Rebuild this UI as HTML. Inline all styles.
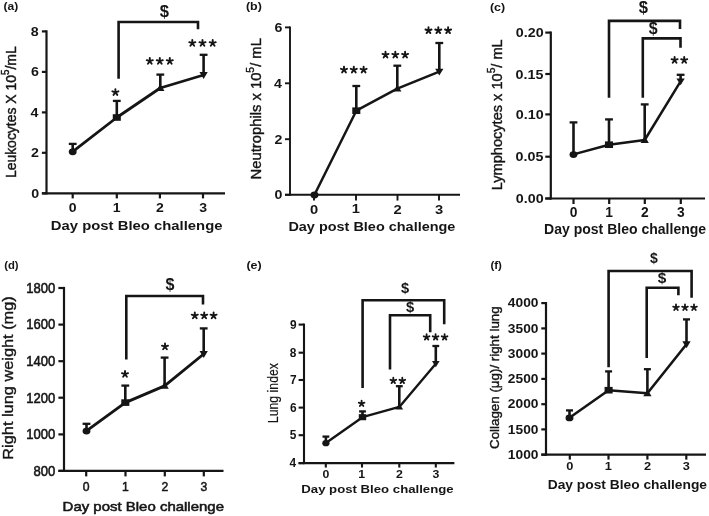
<!DOCTYPE html>
<html><head><meta charset="utf-8"><style>
html,body{margin:0;padding:0;background:#fff;overflow:hidden}
svg{display:block;filter:blur(0.45px)}
text{font-family:"Liberation Sans",sans-serif;fill:#151515;stroke:none}
</style></head><body>
<svg width="709" height="516" viewBox="0 0 709 516">
<g stroke="#151515" fill="#151515">
<path d="M46.50 30.30L46.50 194.40" stroke-width="2.2"/>
<path d="M41.90 193.30L46.50 193.30" stroke-width="2.2"/>
<path d="M41.90 152.80L46.50 152.80" stroke-width="2.2"/>
<path d="M41.90 112.40L46.50 112.40" stroke-width="2.2"/>
<path d="M41.90 71.90L46.50 71.90" stroke-width="2.2"/>
<path d="M41.90 31.40L46.50 31.40" stroke-width="2.2"/>
<path d="M41.90 193.30L225.00 193.30" stroke-width="2.2"/>
<path d="M72.70 193.30L72.70 198.40" stroke-width="2.2"/>
<path d="M116.80 193.30L116.80 198.40" stroke-width="2.2"/>
<path d="M159.90 193.30L159.90 198.40" stroke-width="2.2"/>
<path d="M203.00 193.30L203.00 198.40" stroke-width="2.2"/>
<text transform="translate(31.14,197.89) scale(1.070,1)" font-size="13.30" font-weight="bold">0</text>
<text transform="translate(31.00,157.46) scale(1.070,1)" font-size="13.30" font-weight="bold">2</text>
<text transform="translate(30.57,116.99) scale(1.070,1)" font-size="13.30" font-weight="bold">4</text>
<text transform="translate(31.00,76.49) scale(1.070,1)" font-size="13.30" font-weight="bold">6</text>
<text transform="translate(30.86,35.99) scale(1.070,1)" font-size="13.30" font-weight="bold">8</text>
<text transform="translate(68.83,212.26) scale(1.100,1)" font-size="12.80" font-weight="bold">0</text>
<text transform="translate(112.65,212.13) scale(1.100,1)" font-size="12.80" font-weight="bold">1</text>
<text transform="translate(156.03,212.26) scale(1.100,1)" font-size="12.80" font-weight="bold">2</text>
<text transform="translate(199.20,212.26) scale(1.100,1)" font-size="12.80" font-weight="bold">3</text>
<text transform="translate(3.60,10.39) scale(1.049,1)" font-size="11.49" font-weight="bold">(a)</text>
<text transform="translate(50.86,229.60) scale(1.114,1)" font-size="13.33" font-weight="bold">Day post Bleo challenge</text>
<text transform="translate(16.40,178.12) rotate(-90) scale(1,1.080)" font-size="13.96" font-weight="normal" style="stroke:#151515;stroke-width:0.4px">Leukocytes X 10<tspan dy='-0.68em' font-size='70%'>5</tspan><tspan dy='0.476em'>/mL</tspan></text>
<path d="M72.70 151.60L72.70 143.80" stroke-width="2.6"/>
<path d="M68.80 143.90L76.60 143.90" stroke-width="2.3"/>
<path d="M116.80 117.50L116.80 100.80" stroke-width="2.6"/>
<path d="M112.90 100.90L120.70 100.90" stroke-width="2.3"/>
<path d="M160.30 88.00L160.30 74.50" stroke-width="2.6"/>
<path d="M156.40 74.60L164.20 74.60" stroke-width="2.3"/>
<path d="M203.60 75.00L203.60 54.70" stroke-width="2.6"/>
<path d="M199.70 54.80L207.50 54.80" stroke-width="2.3"/>
<path d="M72.70 151.60 L116.80 117.50 L160.30 88.00 L203.60 75.00" stroke-width="2.8" fill="none" stroke-linejoin="round"/>
<ellipse cx="72.70" cy="151.80" rx="3.96" ry="3.42" stroke="none"/>
<rect x="112.77" y="114.19" width="8.06" height="6.62" stroke="none"/>
<path d="M156.16 90.88L164.44 90.88L160.30 84.04Z" stroke="none"/>
<path d="M199.46 72.12L207.74 72.12L203.60 78.96Z" stroke="none"/>
<path d="M115.40 92.30L115.40 89.10M115.40 92.30L118.44 91.31M115.40 92.30L117.28 94.89M115.40 92.30L113.52 94.89M115.40 92.30L112.36 91.31" stroke-width="1.9" stroke-linecap="round" fill="none"/>
<path d="M149.80 61.20L149.80 58.00M149.80 61.20L152.84 60.21M149.80 61.20L151.68 63.79M149.80 61.20L147.92 63.79M149.80 61.20L146.76 60.21" stroke-width="1.9" stroke-linecap="round" fill="none"/>
<path d="M159.80 61.20L159.80 58.00M159.80 61.20L162.84 60.21M159.80 61.20L161.68 63.79M159.80 61.20L157.92 63.79M159.80 61.20L156.76 60.21" stroke-width="1.9" stroke-linecap="round" fill="none"/>
<path d="M169.80 61.20L169.80 58.00M169.80 61.20L172.84 60.21M169.80 61.20L171.68 63.79M169.80 61.20L167.92 63.79M169.80 61.20L166.76 60.21" stroke-width="1.9" stroke-linecap="round" fill="none"/>
<path d="M192.30 43.20L192.30 40.00M192.30 43.20L195.34 42.21M192.30 43.20L194.18 45.79M192.30 43.20L190.42 45.79M192.30 43.20L189.26 42.21" stroke-width="1.9" stroke-linecap="round" fill="none"/>
<path d="M202.50 43.20L202.50 40.00M202.50 43.20L205.54 42.21M202.50 43.20L204.38 45.79M202.50 43.20L200.62 45.79M202.50 43.20L199.46 42.21" stroke-width="1.9" stroke-linecap="round" fill="none"/>
<path d="M212.70 43.20L212.70 40.00M212.70 43.20L215.74 42.21M212.70 43.20L214.58 45.79M212.70 43.20L210.82 45.79M212.70 43.20L209.66 42.21" stroke-width="1.9" stroke-linecap="round" fill="none"/>
<path d="M118.60 78.70V22.00H198.00V29.20" stroke-width="2.6" fill="none"/>
<path d="M290.00 26.45L290.00 195.75" stroke-width="1.9"/>
<path d="M285.00 194.80L290.00 194.80" stroke-width="1.9"/>
<path d="M285.00 139.20L290.00 139.20" stroke-width="1.9"/>
<path d="M285.00 83.30L290.00 83.30" stroke-width="1.9"/>
<path d="M285.00 27.40L290.00 27.40" stroke-width="1.9"/>
<path d="M285.00 194.80L460.00 194.80" stroke-width="1.9"/>
<path d="M314.00 194.80L314.00 200.55" stroke-width="1.9"/>
<path d="M356.00 194.80L356.00 200.55" stroke-width="1.9"/>
<path d="M397.50 194.80L397.50 200.55" stroke-width="1.9"/>
<path d="M439.00 194.80L439.00 200.55" stroke-width="1.9"/>
<text transform="translate(274.57,199.46) scale(1.050,1)" font-size="13.50" font-weight="bold">0</text>
<text transform="translate(274.43,143.92) scale(1.050,1)" font-size="13.50" font-weight="bold">2</text>
<text transform="translate(274.00,87.96) scale(1.050,1)" font-size="13.50" font-weight="bold">4</text>
<text transform="translate(274.43,32.06) scale(1.050,1)" font-size="13.50" font-weight="bold">6</text>
<text transform="translate(309.96,213.52) scale(1.080,1)" font-size="13.60" font-weight="bold">0</text>
<text transform="translate(351.67,213.38) scale(1.080,1)" font-size="13.60" font-weight="bold">1</text>
<text transform="translate(393.46,213.52) scale(1.080,1)" font-size="13.60" font-weight="bold">2</text>
<text transform="translate(435.03,213.52) scale(1.080,1)" font-size="13.60" font-weight="bold">3</text>
<text transform="translate(245.98,10.34) scale(1.159,1)" font-size="10.74" font-weight="bold">(b)</text>
<text transform="translate(288.39,231.20) scale(1.062,1)" font-size="13.62" font-weight="bold">Day post Bleo challenge</text>
<text transform="translate(260.70,179.38) rotate(-90) scale(1,0.980)" font-size="14.78" font-weight="normal" style="stroke:#151515;stroke-width:0.4px">Neutrophils x 10<tspan dy='-0.68em' font-size='70%'>5</tspan><tspan dy='0.476em'>/ mL</tspan></text>
<path d="M356.30 110.70L356.30 85.90" stroke-width="2.6"/>
<path d="M352.40 86.00L360.20 86.00" stroke-width="2.3"/>
<path d="M397.30 88.60L397.30 65.60" stroke-width="2.6"/>
<path d="M393.40 65.70L401.20 65.70" stroke-width="2.3"/>
<path d="M439.30 71.60L439.30 42.90" stroke-width="2.6"/>
<path d="M435.40 43.00L443.20 43.00" stroke-width="2.3"/>
<path d="M314.50 194.80 L356.30 110.70 L397.30 88.60 L439.30 71.60" stroke-width="2.5" fill="none" stroke-linejoin="round"/>
<ellipse cx="314.50" cy="195.00" rx="3.96" ry="3.42" stroke="none"/>
<rect x="352.27" y="107.39" width="8.06" height="6.62" stroke="none"/>
<path d="M393.16 91.48L401.44 91.48L397.30 84.64Z" stroke="none"/>
<path d="M435.16 68.72L443.44 68.72L439.30 75.56Z" stroke="none"/>
<path d="M344.00 69.80L344.00 66.60M344.00 69.80L347.04 68.81M344.00 69.80L345.88 72.39M344.00 69.80L342.12 72.39M344.00 69.80L340.96 68.81" stroke-width="1.9" stroke-linecap="round" fill="none"/>
<path d="M353.80 69.80L353.80 66.60M353.80 69.80L356.84 68.81M353.80 69.80L355.68 72.39M353.80 69.80L351.92 72.39M353.80 69.80L350.76 68.81" stroke-width="1.9" stroke-linecap="round" fill="none"/>
<path d="M363.60 69.80L363.60 66.60M363.60 69.80L366.64 68.81M363.60 69.80L365.48 72.39M363.60 69.80L361.72 72.39M363.60 69.80L360.56 68.81" stroke-width="1.9" stroke-linecap="round" fill="none"/>
<path d="M385.50 54.90L385.50 51.70M385.50 54.90L388.54 53.91M385.50 54.90L387.38 57.49M385.50 54.90L383.62 57.49M385.50 54.90L382.46 53.91" stroke-width="1.9" stroke-linecap="round" fill="none"/>
<path d="M395.30 54.90L395.30 51.70M395.30 54.90L398.34 53.91M395.30 54.90L397.18 57.49M395.30 54.90L393.42 57.49M395.30 54.90L392.26 53.91" stroke-width="1.9" stroke-linecap="round" fill="none"/>
<path d="M405.10 54.90L405.10 51.70M405.10 54.90L408.14 53.91M405.10 54.90L406.98 57.49M405.10 54.90L403.22 57.49M405.10 54.90L402.06 53.91" stroke-width="1.9" stroke-linecap="round" fill="none"/>
<path d="M428.50 30.50L428.50 27.30M428.50 30.50L431.54 29.51M428.50 30.50L430.38 33.09M428.50 30.50L426.62 33.09M428.50 30.50L425.46 29.51" stroke-width="1.9" stroke-linecap="round" fill="none"/>
<path d="M438.30 30.50L438.30 27.30M438.30 30.50L441.34 29.51M438.30 30.50L440.18 33.09M438.30 30.50L436.42 33.09M438.30 30.50L435.26 29.51" stroke-width="1.9" stroke-linecap="round" fill="none"/>
<path d="M448.10 30.50L448.10 27.30M448.10 30.50L451.14 29.51M448.10 30.50L449.98 33.09M448.10 30.50L446.22 33.09M448.10 30.50L445.06 29.51" stroke-width="1.9" stroke-linecap="round" fill="none"/>
<path d="M550.80 31.50L550.80 199.60" stroke-width="2.2"/>
<path d="M545.30 198.50L550.80 198.50" stroke-width="2.2"/>
<path d="M545.30 156.70L550.80 156.70" stroke-width="2.2"/>
<path d="M545.30 114.40L550.80 114.40" stroke-width="2.2"/>
<path d="M545.30 74.00L550.80 74.00" stroke-width="2.2"/>
<path d="M545.30 32.60L550.80 32.60" stroke-width="2.2"/>
<path d="M545.30 198.50L705.00 198.50" stroke-width="2.2"/>
<path d="M573.50 198.50L573.50 204.00" stroke-width="2.2"/>
<path d="M609.20 198.50L609.20 204.00" stroke-width="2.2"/>
<path d="M644.80 198.50L644.80 204.00" stroke-width="2.2"/>
<path d="M680.80 198.50L680.80 204.00" stroke-width="2.2"/>
<text transform="translate(515.87,203.02) scale(1.090,1)" font-size="13.10" font-weight="bold">0.00</text>
<text transform="translate(515.58,161.22) scale(1.090,1)" font-size="13.10" font-weight="bold">0.05</text>
<text transform="translate(515.87,118.92) scale(1.090,1)" font-size="13.10" font-weight="bold">0.10</text>
<text transform="translate(515.58,78.52) scale(1.090,1)" font-size="13.10" font-weight="bold">0.15</text>
<text transform="translate(515.87,37.12) scale(1.090,1)" font-size="13.10" font-weight="bold">0.20</text>
<text transform="translate(569.71,216.66) scale(1.000,1)" font-size="13.80" font-weight="bold">0</text>
<text transform="translate(605.13,216.52) scale(1.000,1)" font-size="13.80" font-weight="bold">1</text>
<text transform="translate(641.00,216.66) scale(1.000,1)" font-size="13.80" font-weight="bold">2</text>
<text transform="translate(677.07,216.66) scale(1.000,1)" font-size="13.80" font-weight="bold">3</text>
<text transform="translate(489.88,10.57) scale(1.167,1)" font-size="10.64" font-weight="bold">(c)</text>
<text transform="translate(544.02,234.20) scale(0.959,1)" font-size="14.64" font-weight="bold">Day post Bleo challenge</text>
<text transform="translate(502.40,190.27) rotate(-90) scale(1,1.024)" font-size="14.58" font-weight="normal" style="stroke:#151515;stroke-width:0.4px">Lymphocytes x 10<tspan dy='-0.68em' font-size='70%'>5</tspan><tspan dy='0.476em'>/ mL</tspan></text>
<path d="M573.50 154.40L573.50 122.30" stroke-width="2.6"/>
<path d="M569.60 122.40L577.40 122.40" stroke-width="2.3"/>
<path d="M609.00 144.70L609.00 119.30" stroke-width="2.6"/>
<path d="M605.10 119.40L612.90 119.40" stroke-width="2.3"/>
<path d="M644.70 140.00L644.70 104.30" stroke-width="2.6"/>
<path d="M640.80 104.40L648.60 104.40" stroke-width="2.3"/>
<path d="M680.60 81.40L680.60 74.70" stroke-width="2.6"/>
<path d="M676.70 74.80L684.50 74.80" stroke-width="2.3"/>
<path d="M573.50 154.40 L609.00 144.70 L644.70 140.00 L680.60 81.40" stroke-width="2.5" fill="none" stroke-linejoin="round"/>
<ellipse cx="573.50" cy="154.60" rx="3.96" ry="3.42" stroke="none"/>
<rect x="604.97" y="141.39" width="8.06" height="6.62" stroke="none"/>
<path d="M640.56 142.88L648.84 142.88L644.70 136.04Z" stroke="none"/>
<path d="M676.46 78.52L684.74 78.52L680.60 85.36Z" stroke="none"/>
<path d="M674.60 60.20L674.60 57.00M674.60 60.20L677.64 59.21M674.60 60.20L676.48 62.79M674.60 60.20L672.72 62.79M674.60 60.20L671.56 59.21" stroke-width="1.9" stroke-linecap="round" fill="none"/>
<path d="M684.20 60.20L684.20 57.00M684.20 60.20L687.24 59.21M684.20 60.20L686.08 62.79M684.20 60.20L682.32 62.79M684.20 60.20L681.16 59.21" stroke-width="1.9" stroke-linecap="round" fill="none"/>
<path d="M609.00 97.70V20.90H680.00V29.00" stroke-width="2.6" fill="none"/>
<path d="M642.80 97.70V38.40H680.50V47.70" stroke-width="2.6" fill="none"/>
<path d="M64.00 286.90L64.00 472.00" stroke-width="2.2"/>
<path d="M58.40 470.90L64.00 470.90" stroke-width="2.2"/>
<path d="M58.40 434.40L64.00 434.40" stroke-width="2.2"/>
<path d="M58.40 397.70L64.00 397.70" stroke-width="2.2"/>
<path d="M58.40 361.20L64.00 361.20" stroke-width="2.2"/>
<path d="M58.40 324.60L64.00 324.60" stroke-width="2.2"/>
<path d="M58.40 288.00L64.00 288.00" stroke-width="2.2"/>
<path d="M58.40 470.90L223.50 470.90" stroke-width="2.2"/>
<path d="M86.20 470.90L86.20 476.40" stroke-width="2.2"/>
<path d="M125.50 470.90L125.50 476.40" stroke-width="2.2"/>
<path d="M164.80 470.90L164.80 476.40" stroke-width="2.2"/>
<path d="M203.80 470.90L203.80 476.40" stroke-width="2.2"/>
<text transform="translate(33.41,475.70) scale(0.940,1)" font-size="13.91" font-weight="normal" style="stroke:#151515;stroke-width:0.55px">800</text>
<text transform="translate(26.21,439.20) scale(0.940,1)" font-size="13.91" font-weight="normal" style="stroke:#151515;stroke-width:0.55px">1000</text>
<text transform="translate(26.21,402.50) scale(0.940,1)" font-size="13.91" font-weight="normal" style="stroke:#151515;stroke-width:0.55px">1200</text>
<text transform="translate(26.21,366.00) scale(0.940,1)" font-size="13.91" font-weight="normal" style="stroke:#151515;stroke-width:0.55px">1400</text>
<text transform="translate(26.21,329.40) scale(0.940,1)" font-size="13.91" font-weight="normal" style="stroke:#151515;stroke-width:0.55px">1600</text>
<text transform="translate(26.21,292.80) scale(0.940,1)" font-size="13.91" font-weight="normal" style="stroke:#151515;stroke-width:0.55px">1800</text>
<text transform="translate(82.79,490.83) scale(0.900,1)" font-size="13.51" font-weight="normal" style="stroke:#151515;stroke-width:0.55px">0</text>
<text transform="translate(121.91,490.70) scale(0.900,1)" font-size="13.51" font-weight="normal" style="stroke:#151515;stroke-width:0.55px">1</text>
<text transform="translate(161.39,490.83) scale(0.900,1)" font-size="13.51" font-weight="normal" style="stroke:#151515;stroke-width:0.55px">2</text>
<text transform="translate(200.46,490.83) scale(0.900,1)" font-size="13.51" font-weight="normal" style="stroke:#151515;stroke-width:0.55px">3</text>
<text transform="translate(4.14,268.50) scale(1.029,1)" font-size="10.96" font-weight="bold">(d)</text>
<text transform="translate(62.58,510.53) scale(1.106,1)" font-size="13.55" font-weight="normal" style="stroke:#151515;stroke-width:0.55px">Day post Bleo challenge</text>
<text transform="translate(12.70,459.71) rotate(-90) scale(1,0.931)" font-size="16.35" font-weight="normal" style="stroke:#151515;stroke-width:0.4px">Right lung weight (mg)</text>
<path d="M86.50 430.90L86.50 423.70" stroke-width="2.6"/>
<path d="M82.60 423.80L90.40 423.80" stroke-width="2.3"/>
<path d="M125.30 402.60L125.30 385.50" stroke-width="2.6"/>
<path d="M121.40 385.60L129.20 385.60" stroke-width="2.3"/>
<path d="M164.60 385.80L164.60 357.50" stroke-width="2.6"/>
<path d="M160.70 357.60L168.50 357.60" stroke-width="2.3"/>
<path d="M203.70 354.00L203.70 328.30" stroke-width="2.6"/>
<path d="M199.80 328.40L207.60 328.40" stroke-width="2.3"/>
<path d="M86.50 430.90 L125.30 402.60 L164.60 385.80 L203.70 354.00" stroke-width="2.9" fill="none" stroke-linejoin="round"/>
<ellipse cx="86.50" cy="431.10" rx="3.96" ry="3.42" stroke="none"/>
<rect x="121.27" y="399.29" width="8.06" height="6.62" stroke="none"/>
<path d="M160.46 388.68L168.74 388.68L164.60 381.84Z" stroke="none"/>
<path d="M199.56 351.12L207.84 351.12L203.70 357.96Z" stroke="none"/>
<path d="M125.00 374.20L125.00 371.00M125.00 374.20L128.04 373.21M125.00 374.20L126.88 376.79M125.00 374.20L123.12 376.79M125.00 374.20L121.96 373.21" stroke-width="1.9" stroke-linecap="round" fill="none"/>
<path d="M165.00 346.70L165.00 343.50M165.00 346.70L168.04 345.71M165.00 346.70L166.88 349.29M165.00 346.70L163.12 349.29M165.00 346.70L161.96 345.71" stroke-width="1.9" stroke-linecap="round" fill="none"/>
<path d="M194.80 315.60L194.80 312.40M194.80 315.60L197.84 314.61M194.80 315.60L196.68 318.19M194.80 315.60L192.92 318.19M194.80 315.60L191.76 314.61" stroke-width="1.9" stroke-linecap="round" fill="none"/>
<path d="M204.20 315.60L204.20 312.40M204.20 315.60L207.24 314.61M204.20 315.60L206.08 318.19M204.20 315.60L202.32 318.19M204.20 315.60L201.16 314.61" stroke-width="1.9" stroke-linecap="round" fill="none"/>
<path d="M213.60 315.60L213.60 312.40M213.60 315.60L216.64 314.61M213.60 315.60L215.48 318.19M213.60 315.60L211.72 318.19M213.60 315.60L210.56 314.61" stroke-width="1.9" stroke-linecap="round" fill="none"/>
<path d="M126.30 359.50V296.00H203.00V304.40" stroke-width="2.6" fill="none"/>
<path d="M304.00 323.55L304.00 464.15" stroke-width="2.1"/>
<path d="M298.60 463.10L304.00 463.10" stroke-width="2.1"/>
<path d="M298.60 435.20L304.00 435.20" stroke-width="2.1"/>
<path d="M298.60 407.60L304.00 407.60" stroke-width="2.1"/>
<path d="M298.60 380.00L304.00 380.00" stroke-width="2.1"/>
<path d="M298.60 352.70L304.00 352.70" stroke-width="2.1"/>
<path d="M298.60 324.60L304.00 324.60" stroke-width="2.1"/>
<path d="M298.60 463.10L454.40 463.10" stroke-width="2.1"/>
<path d="M325.80 463.10L325.80 467.55" stroke-width="2.1"/>
<path d="M362.00 463.10L362.00 467.55" stroke-width="2.1"/>
<path d="M399.30 463.10L399.30 467.55" stroke-width="2.1"/>
<path d="M435.80 463.10L435.80 467.55" stroke-width="2.1"/>
<text transform="translate(289.56,467.21) scale(1.000,1)" font-size="11.90" font-weight="bold">4</text>
<text transform="translate(289.79,439.25) scale(1.000,1)" font-size="11.90" font-weight="bold">5</text>
<text transform="translate(289.91,411.71) scale(1.000,1)" font-size="11.90" font-weight="bold">6</text>
<text transform="translate(290.03,384.17) scale(1.000,1)" font-size="11.90" font-weight="bold">7</text>
<text transform="translate(289.79,356.81) scale(1.000,1)" font-size="11.90" font-weight="bold">8</text>
<text transform="translate(289.91,328.71) scale(1.000,1)" font-size="11.90" font-weight="bold">9</text>
<text transform="translate(322.41,478.01) scale(1.090,1)" font-size="11.30" font-weight="bold">0</text>
<text transform="translate(358.37,477.90) scale(1.090,1)" font-size="11.30" font-weight="bold">1</text>
<text transform="translate(395.91,478.01) scale(1.090,1)" font-size="11.30" font-weight="bold">2</text>
<text transform="translate(432.47,478.01) scale(1.090,1)" font-size="11.30" font-weight="bold">3</text>
<text transform="translate(246.38,269.21) scale(1.199,1)" font-size="10.43" font-weight="bold">(e)</text>
<text transform="translate(301.28,492.90) scale(1.138,1)" font-size="11.59" font-weight="bold">Day post Bleo challenge</text>
<text transform="translate(277.73,423.21) rotate(-90) scale(1,1.158)" font-size="12.32" font-weight="normal" style="stroke:#151515;stroke-width:0.15px">Lung index</text>
<path d="M325.90 443.00L325.90 436.50" stroke-width="2.6"/>
<path d="M322.50 436.60L329.30 436.60" stroke-width="2.3"/>
<path d="M362.50 417.20L362.50 411.30" stroke-width="2.6"/>
<path d="M359.10 411.40L365.90 411.40" stroke-width="2.3"/>
<path d="M399.30 406.90L399.30 386.10" stroke-width="2.6"/>
<path d="M395.90 386.20L402.70 386.20" stroke-width="2.3"/>
<path d="M435.80 363.70L435.80 345.90" stroke-width="2.6"/>
<path d="M432.40 346.00L439.20 346.00" stroke-width="2.3"/>
<path d="M325.90 443.00 L362.50 417.20 L399.30 406.90 L435.80 363.70" stroke-width="2.4" fill="none" stroke-linejoin="round"/>
<ellipse cx="325.90" cy="443.20" rx="3.63" ry="3.13" stroke="none"/>
<rect x="358.80" y="414.16" width="7.39" height="6.07" stroke="none"/>
<path d="M395.50 409.54L403.10 409.54L399.30 403.27Z" stroke="none"/>
<path d="M432.00 361.06L439.60 361.06L435.80 367.33Z" stroke="none"/>
<path d="M361.60 403.60L361.60 400.60M361.60 403.60L364.45 402.67M361.60 403.60L363.36 406.03M361.60 403.60L359.84 406.03M361.60 403.60L358.75 402.67" stroke-width="1.8" stroke-linecap="round" fill="none"/>
<path d="M393.30 380.70L393.30 377.70M393.30 380.70L396.15 379.77M393.30 380.70L395.06 383.13M393.30 380.70L391.54 383.13M393.30 380.70L390.45 379.77" stroke-width="1.8" stroke-linecap="round" fill="none"/>
<path d="M402.30 380.70L402.30 377.70M402.30 380.70L405.15 379.77M402.30 380.70L404.06 383.13M402.30 380.70L400.54 383.13M402.30 380.70L399.45 379.77" stroke-width="1.8" stroke-linecap="round" fill="none"/>
<path d="M426.60 337.20L426.60 334.20M426.60 337.20L429.45 336.27M426.60 337.20L428.36 339.63M426.60 337.20L424.84 339.63M426.60 337.20L423.75 336.27" stroke-width="1.8" stroke-linecap="round" fill="none"/>
<path d="M435.60 337.20L435.60 334.20M435.60 337.20L438.45 336.27M435.60 337.20L437.36 339.63M435.60 337.20L433.84 339.63M435.60 337.20L432.75 336.27" stroke-width="1.8" stroke-linecap="round" fill="none"/>
<path d="M444.60 337.20L444.60 334.20M444.60 337.20L447.45 336.27M444.60 337.20L446.36 339.63M444.60 337.20L442.84 339.63M444.60 337.20L441.75 336.27" stroke-width="1.8" stroke-linecap="round" fill="none"/>
<path d="M362.60 388.00V300.20H444.20V324.20" stroke-width="2.6" fill="none"/>
<path d="M390.00 369.50V315.30H430.20V332.30" stroke-width="2.6" fill="none"/>
<path d="M546.00 302.00L546.00 455.80" stroke-width="2.2"/>
<path d="M541.30 454.70L546.00 454.70" stroke-width="2.2"/>
<path d="M541.30 429.40L546.00 429.40" stroke-width="2.2"/>
<path d="M541.30 404.20L546.00 404.20" stroke-width="2.2"/>
<path d="M541.30 378.90L546.00 378.90" stroke-width="2.2"/>
<path d="M541.30 353.60L546.00 353.60" stroke-width="2.2"/>
<path d="M541.30 328.40L546.00 328.40" stroke-width="2.2"/>
<path d="M541.30 303.10L546.00 303.10" stroke-width="2.2"/>
<path d="M541.30 454.70L706.00 454.70" stroke-width="2.2"/>
<path d="M569.80 454.70L569.80 459.60" stroke-width="2.2"/>
<path d="M608.50 454.70L608.50 459.60" stroke-width="2.2"/>
<path d="M647.40 454.70L647.40 459.60" stroke-width="2.2"/>
<path d="M686.30 454.70L686.30 459.60" stroke-width="2.2"/>
<text transform="translate(507.87,458.94) scale(1.120,1)" font-size="12.30" font-weight="bold">1000</text>
<text transform="translate(507.87,433.64) scale(1.120,1)" font-size="12.30" font-weight="bold">1500</text>
<text transform="translate(507.87,408.44) scale(1.120,1)" font-size="12.30" font-weight="bold">2000</text>
<text transform="translate(507.87,383.14) scale(1.120,1)" font-size="12.30" font-weight="bold">2500</text>
<text transform="translate(507.87,357.84) scale(1.120,1)" font-size="12.30" font-weight="bold">3000</text>
<text transform="translate(507.87,332.64) scale(1.120,1)" font-size="12.30" font-weight="bold">3500</text>
<text transform="translate(507.87,307.34) scale(1.120,1)" font-size="12.30" font-weight="bold">4000</text>
<text transform="translate(566.29,470.37) scale(1.150,1)" font-size="11.10" font-weight="bold">0</text>
<text transform="translate(604.73,470.26) scale(1.150,1)" font-size="11.10" font-weight="bold">1</text>
<text transform="translate(643.89,470.37) scale(1.150,1)" font-size="11.10" font-weight="bold">2</text>
<text transform="translate(682.85,470.37) scale(1.150,1)" font-size="11.10" font-weight="bold">3</text>
<text transform="translate(490.42,269.06) scale(1.131,1)" font-size="10.21" font-weight="bold">(f)</text>
<text transform="translate(547.73,488.70) scale(1.023,1)" font-size="13.48" font-weight="bold">Day post Bleo challenge</text>
<text transform="translate(499.20,448.97) rotate(-90) scale(1,1.024)" font-size="13.35" font-weight="normal" style="stroke:#151515;stroke-width:0.4px">Collagen (μg)/ right lung</text>
<path d="M569.50 417.70L569.50 410.30" stroke-width="2.6"/>
<path d="M566.00 410.40L573.00 410.40" stroke-width="2.3"/>
<path d="M608.60 390.20L608.60 371.30" stroke-width="2.6"/>
<path d="M605.10 371.40L612.10 371.40" stroke-width="2.3"/>
<path d="M647.40 393.30L647.40 369.10" stroke-width="2.6"/>
<path d="M643.90 369.20L650.90 369.20" stroke-width="2.3"/>
<path d="M686.50 344.20L686.50 319.30" stroke-width="2.6"/>
<path d="M683.00 319.40L690.00 319.40" stroke-width="2.3"/>
<path d="M569.50 417.70 L608.60 390.20 L647.40 393.30 L686.50 344.20" stroke-width="2.6" fill="none" stroke-linejoin="round"/>
<ellipse cx="569.50" cy="417.90" rx="3.96" ry="3.42" stroke="none"/>
<rect x="604.57" y="386.89" width="8.06" height="6.62" stroke="none"/>
<path d="M643.26 396.18L651.54 396.18L647.40 389.34Z" stroke="none"/>
<path d="M682.36 341.32L690.64 341.32L686.50 348.16Z" stroke="none"/>
<path d="M676.00 307.50L676.00 304.50M676.00 307.50L678.85 306.57M676.00 307.50L677.76 309.93M676.00 307.50L674.24 309.93M676.00 307.50L673.15 306.57" stroke-width="1.8" stroke-linecap="round" fill="none"/>
<path d="M685.00 307.50L685.00 304.50M685.00 307.50L687.85 306.57M685.00 307.50L686.76 309.93M685.00 307.50L683.24 309.93M685.00 307.50L682.15 306.57" stroke-width="1.8" stroke-linecap="round" fill="none"/>
<path d="M694.00 307.50L694.00 304.50M694.00 307.50L696.85 306.57M694.00 307.50L695.76 309.93M694.00 307.50L692.24 309.93M694.00 307.50L691.15 306.57" stroke-width="1.8" stroke-linecap="round" fill="none"/>
<path d="M608.60 367.30V271.00H691.60V297.70" stroke-width="2.6" fill="none"/>
<path d="M646.70 358.00V287.70H678.40V295.30" stroke-width="2.6" fill="none"/>
<text transform="translate(159.66,17.14)" font-size="16.59" font-weight="bold">$</text>
<text transform="translate(638.66,13.24)" font-size="16.59" font-weight="bold">$</text>
<text transform="translate(648.83,33.78)" font-size="15.98" font-weight="bold">$</text>
<text transform="translate(165.49,289.87)" font-size="16.10" font-weight="bold">$</text>
<text transform="translate(400.90,292.98)" font-size="14.63" font-weight="bold">$</text>
<text transform="translate(406.07,311.57)" font-size="14.76" font-weight="bold">$</text>
<text transform="translate(650.07,262.52)" font-size="14.02" font-weight="bold">$</text>
<text transform="translate(657.70,283.32)" font-size="15.37" font-weight="bold">$</text>
</g>
</svg>
</body></html>
